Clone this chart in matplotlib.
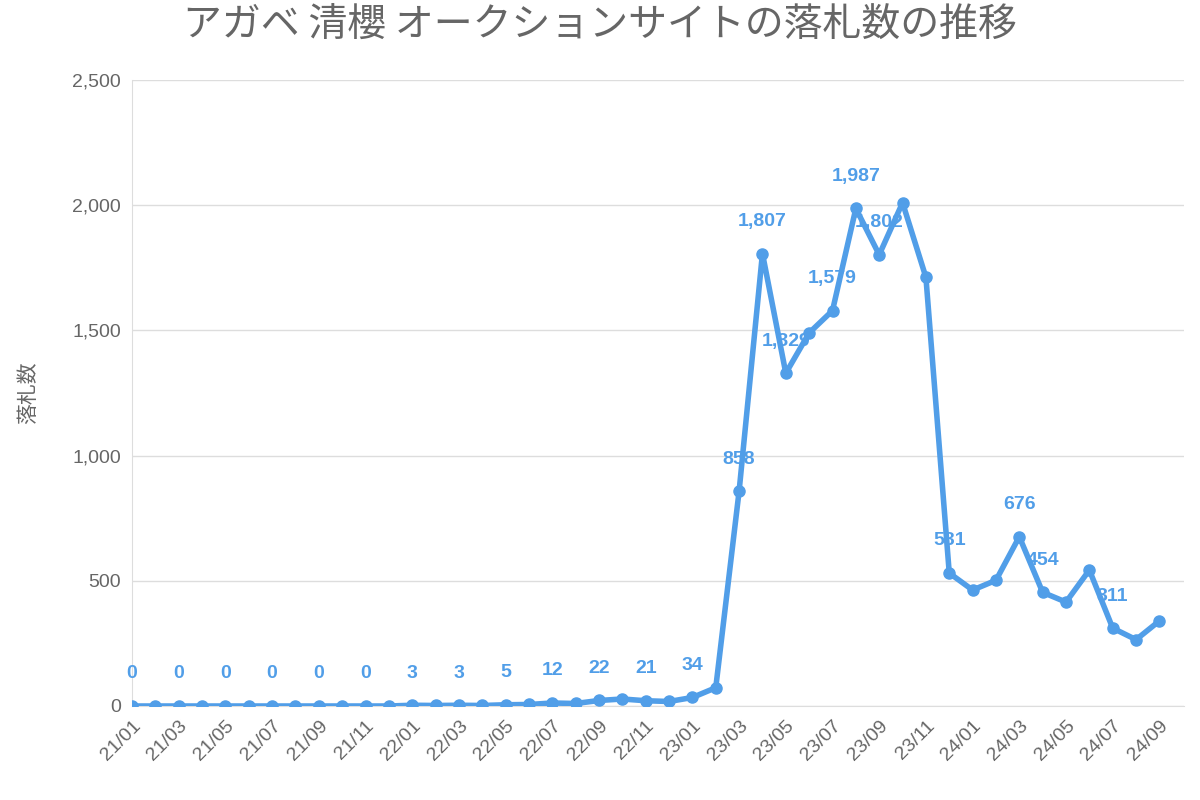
import matplotlib
matplotlib.use("Agg")
import matplotlib.pyplot as plt

plt.rcParams["font.family"] = ["Liberation Sans", "Noto Sans CJK JP"]

months = [f"{y}/{m:02d}" for y in (21, 22, 23) for m in range(1, 13)] + [f"24/{m:02d}" for m in range(1, 10)]
values = [0]*12 + [3, 2, 3, 2, 5, 6, 12, 10, 22, 28, 21, 18,
          34, 73, 858, 1807, 1329, 1490, 1579, 1987, 1802, 2010, 1712, 531,
          463, 502, 676, 454, 415, 543, 311, 265, 340]
label_idx = list(range(0, 25, 2)) + [26, 27, 28, 30, 31, 32, 35, 38, 39, 42]
yticks = [0, 500, 1000, 1500, 2000, 2500]

color = "#519ee8"
fig = plt.figure(figsize=(12, 8), dpi=100)
ax = fig.add_axes([0.11, 0.1175, 0.877, 0.7825])
x = list(range(len(values)))
ax.plot(x, values, color=color, lw=4, marker="o", ms=8, zorder=3)
for i in label_idx:
    ax.annotate(f"{values[i]:,}", (i, values[i]), xytext=(0, 17), textcoords="offset points",
                ha="center", va="bottom", color=color, fontsize=14, fontweight="bold")
ax.set_xlim(0, 45.07)
ax.set_ylim(0, 2500)
ax.set_yticks(yticks)
ax.set_yticklabels([f"{v:,}" for v in yticks], fontsize=14, color="#666666")
ax.set_xticks(x[::2])
ax.set_xticklabels(months[::2], rotation=45, ha="right", rotation_mode="anchor", fontsize=14, color="#666666")
ax.grid(axis="y", color="#dddddd", lw=1)
ax.grid(axis="x", visible=False)
for s in ("top", "right"):
    ax.spines[s].set_visible(False)
ax.spines["left"].set_color("#dddddd")
ax.spines["bottom"].set_color("#dddddd")
ax.tick_params(length=0, pad=8)
ax.set_ylabel("落札数", fontsize=15, color="#666666", family="Noto Sans CJK JP", labelpad=24)
fig.text(0.5, 0.968, "アガベ 清櫻 オークションサイトの落札数の推移", ha="center", va="center",
         fontsize=28, color="#666666", family="Noto Sans CJK JP")
fig.savefig("out.png")
